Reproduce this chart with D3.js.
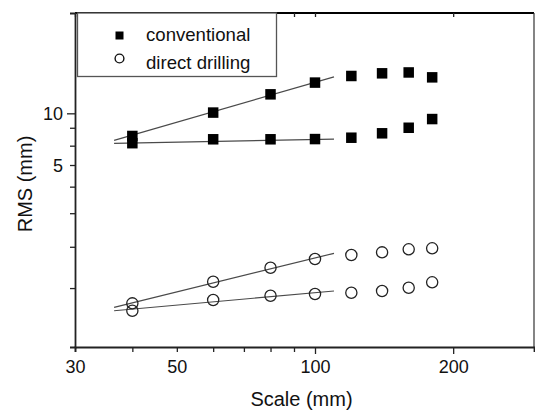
<!DOCTYPE html>
<html><head><meta charset="utf-8">
<script src="https://cdn.jsdelivr.net/npm/d3@7"></script>
<style>body{margin:0;background:#fff}svg{display:block}text{font-family:"Liberation Sans",Arial,sans-serif;fill:#111}</style>
</head><body><svg id="c" width="535" height="411"></svg>
<script>
// Data
const scales = [40, 60, 80, 100, 120, 140, 160, 180];
const convUpper = [7.38, 10.1, 12.9, 15.1, 16.5, 17.1, 17.3, 16.2];
const convLower = [6.7, 7.06, 7.06, 7.08, 7.21, 7.65, 8.24, 9.26];
const directUpper = [0.782, 1.045, 1.26, 1.417, 1.495, 1.55, 1.614, 1.636];
const directLower = [0.708, 0.818, 0.866, 0.886, 0.902, 0.923, 0.964, 1.037];
const fitX = [36.5, 110];
const fitConvUpper = [6.96, 16.3];
const fitConvLower = [6.69, 7.08];
const fitDirectUpper = [0.741, 1.53];
const fitDirectLower = [0.708, 0.923];
const xTicks = [30, 40, 50, 60, 70, 80, 90, 100, 200];
const xLabels = [30, 50, 100, 200];
const yTicks = [10, 8.24, 6.48, 5, 3.74, 2.62, 1.67, 0.96];
const yLabels = [10, 5];

const L = 75, R = 534, T = 13, B = 347;
const svg = d3.select("#c");
const x = d3.scaleLog().domain([30, 300]).range([L, R]);
const y = d3.scaleLog().domain([0.4355, 38.4]).range([B, T]);

// fit lines
const line = d3.line().x(d => x(d[0])).y(d => y(d[1]));
[fitConvUpper, fitConvLower, fitDirectUpper, fitDirectLower].forEach(f => {
  svg.append("path").attr("d", line(fitX.map((v, i) => [v, f[i]])))
    .attr("fill", "none").attr("stroke", "#4a4a4a").attr("stroke-width", 1.2);
});

// squares
const sq = 10.5;
[convUpper, convLower].forEach(s => {
  svg.append("g").selectAll("rect").data(scales.map((v, i) => [v, s[i]])).join("rect")
    .attr("x", d => x(d[0]) - sq / 2).attr("y", d => y(d[1]) - sq / 2)
    .attr("width", sq).attr("height", sq).attr("fill", "#000");
});
// circles
[directUpper, directLower].forEach(s => {
  svg.append("g").selectAll("circle").data(scales.map((v, i) => [v, s[i]])).join("circle")
    .attr("cx", d => x(d[0])).attr("cy", d => y(d[1])).attr("r", 5.6)
    .attr("fill", "none").attr("stroke", "#222").attr("stroke-width", 1.3);
});

// frame
svg.append("line").attr("x1", L).attr("x2", R).attr("y1", T).attr("y2", T).attr("stroke", "#000").attr("stroke-width", 2.2);
svg.append("line").attr("x1", R).attr("x2", R).attr("y1", T).attr("y2", B).attr("stroke", "#333").attr("stroke-width", 1.2);

// bottom axis
const xb = svg.append("g").attr("transform", `translate(0,${B})`)
  .call(d3.axisBottom(x).tickValues(xTicks).tickSizeOuter(0)
    .tickSize(5).tickFormat(d => xLabels.includes(d) ? d : ""));
xb.select(".domain").attr("stroke", "#222").attr("stroke-width", 1.8);
xb.selectAll(".tick line").attr("stroke", "#222").attr("stroke-width", 1.3)
  .attr("y2", d => d === 100 || d === 200 ? 7 : 5);
xb.selectAll(".tick text").attr("font-size", 18).attr("dy", 0).attr("y", 26)
  .attr("font-family", "Liberation Sans, Arial, sans-serif").attr("fill", "#111");

// top ticks (inward)
const xt = svg.append("g").attr("transform", `translate(0,${T})`)
  .call(d3.axisBottom(x).tickValues(xTicks).tickSizeOuter(0).tickSize(4).tickFormat(""));
xt.select(".domain").remove();
xt.selectAll(".tick line").attr("stroke", "#222").attr("stroke-width", 1.3);

// left axis
const yl = svg.append("g").attr("transform", `translate(${L},0)`)
  .call(d3.axisLeft(y).tickValues(yTicks).tickSizeOuter(0).tickSize(5)
    .tickFormat(d => yLabels.includes(d) ? d : ""));
yl.select(".domain").attr("stroke", "#222").attr("stroke-width", 1.8);
yl.selectAll(".tick line").attr("stroke", "#222").attr("stroke-width", 1.3)
  .attr("x2", d => d === 10 ? -8 : -5);
yl.selectAll(".tick text").attr("font-size", 18).attr("x", -12).attr("dy", "0.36em")
  .attr("font-family", "Liberation Sans, Arial, sans-serif").attr("fill", "#111");

// axis titles
svg.append("text").attr("x", (L + R) / 2 - 3).attr("y", 406).attr("text-anchor", "middle")
  .attr("font-size", 20).text("Scale (mm)");
svg.append("text").attr("transform", `translate(32,${(T + B) / 2 + 4}) rotate(-90)`)
  .attr("text-anchor", "middle").attr("font-size", 20).text("RMS (mm)");

// legend
svg.append("rect").attr("x", 77.5).attr("y", T).attr("width", 199).attr("height", 63.5)
  .attr("fill", "#fff").attr("stroke", "#555").attr("stroke-width", 1.3);
svg.append("rect").attr("x", 115.5).attr("y", 31.5).attr("width", 8).attr("height", 8).attr("fill", "#000");
svg.append("circle").attr("cx", 119.5).attr("cy", 58.5).attr("r", 4.4).attr("fill", "none")
  .attr("stroke", "#111").attr("stroke-width", 1.4);
svg.append("text").attr("x", 146).attr("y", 41).attr("font-size", 18.6).text("conventional");
svg.append("text").attr("x", 146).attr("y", 69).attr("font-size", 18.6).text("direct drilling");
</script></body></html>
